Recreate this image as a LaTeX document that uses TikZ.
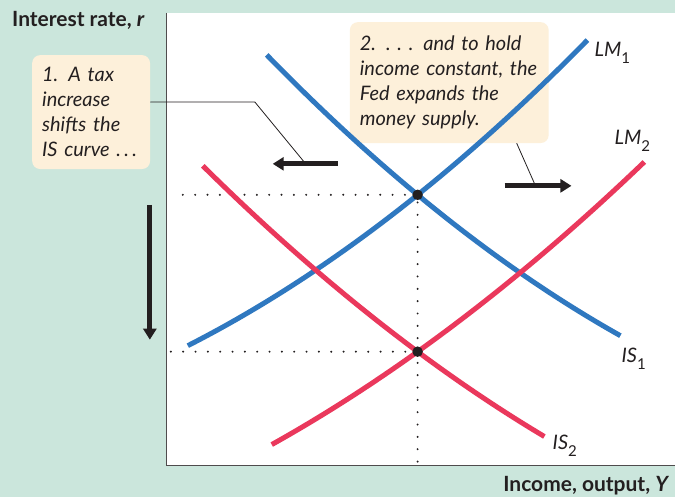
\documentclass[tikz,border=0pt]{standalone}
\usepackage{xcolor}
\usepackage{fontspec}
\setmainfont{Lato}
\usepackage{tikz}
\usetikzlibrary{arrows.meta, positioning}

\definecolor{panelgreen}{HTML}{CBE6DC}
\definecolor{notecream}{HTML}{FDF0DA}
\definecolor{curveblue}{HTML}{2F78C0}
\definecolor{curvered}{HTML}{EA385C}
\definecolor{inkgray}{HTML}{231F20}

\newcommand{\curvelab}[2]{\textit{#1}\raisebox{-7pt}{\fontsize{15}{15}\selectfont #2}}

\begin{document}
\begin{tikzpicture}[x=1pt, y=-1pt, >={Triangle[length=11pt,width=13pt]},
    note/.style={rectangle, rounded corners=8pt, fill=notecream, anchor=north west, inner xsep=10pt, inner ysep=0pt, align=left, font=\fontsize{20}{25}\selectfont\itshape, text=inkgray},
    curve/.style={line width=5pt},
    shiftarrow/.style={->, line width=5pt, draw=inkgray},
    leader/.style={draw=inkgray, line width=0.8pt},
    guide/.style={draw=inkgray, line width=2.2pt, line cap=round, dash pattern=on 0pt off 12.35pt},
    eqdot/.style={circle, fill=inkgray, inner sep=0pt, minimum size=10.5pt},
    axislab/.style={font=\fontsize{21}{25}\selectfont\bfseries, text=inkgray, inner sep=0pt},
    curvelabel/.style={font=\fontsize{20}{25}\selectfont, text=inkgray, inner sep=0pt, anchor=base west}]

    % panel and plot area
    \fill[panelgreen] (0,0) rectangle (676,497);
    \fill[white] (167,13) rectangle (676,466);
    \draw[draw=inkgray!80, line width=1.3pt] (167,13) -- (167,466) -- (676,466);

    \node[axislab, anchor=base west] (ylab) at (12,27) {Interest rate, \textit{r}};
    \node[axislab, anchor=base east] (xlab) at (670,492) {Income, output, \textit{Y}};

    % notes
    \node[note, minimum width=118pt, minimum height=114pt, text width=98pt] (note1) at (32,55)
        {1. A tax\\increase\\shifts the\\IS\ curve~.\,.\,.};
    \node[note, minimum width=199pt, minimum height=121pt, text width=179pt] (note2) at (350,22)
        {2. .~.~. and to hold\\income constant, the\\Fed expands the\\money supply.};

    % equilibria and guides
    \coordinate (E1) at (418,195);
    \coordinate (E2) at (418,352);
    \coordinate (g1) at (183,195);
    \coordinate (g2) at (171,352);
    \coordinate (gfoot) at (418,462);
    \draw[guide] (g1) -- (E1);
    \draw[guide] (g2) -- (E2);
    \draw[guide] (gfoot) -- (E1);

    % curves (u = x/100)
    \draw[curve, curveblue] plot[domain=1.88:5.88, samples=60] ({100*\x}, {419.25-26.97*\x-6.38*\x*\x});
    \draw[curve, curveblue] plot[domain=2.67:6.21, samples=60] ({100*\x}, {-265.9+137.73*\x-6.57*\x*\x});
    \draw[curve, curvered] plot[domain=2.72:6.45, samples=60] ({100*\x}, {557.28-26.70*\x-5.36*\x*\x});
    \draw[curve, curvered] plot[domain=2.03:5.45, samples=60] ({100*\x}, {-58.19+122.06*\x-5.725*\x*\x});

    \node[eqdot] (eq1) at (E1) {};
    \node[eqdot] (eq2) at (E2) {};

    \node[curvelabel] (lm1) at (595,57) {\curvelab{LM}{1}};
    \node[curvelabel] (lm2) at (615,145) {\curvelab{LM}{2}};
    \node[curvelabel] (is1) at (622,363) {\curvelab{IS}{1}};
    \node[curvelabel] (is2) at (553,450) {\curvelab{IS}{2}};

    % shift arrows
    \coordinate (ltail) at (338,164);
    \coordinate (ltip) at (273,164);
    \coordinate (lhook) at (306,164);
    \coordinate (rtail) at (505,186);
    \coordinate (rtip) at (572,186);
    \coordinate (rhook) at (536,186);
    \coordinate (dtail) at (150,205);
    \coordinate (dtip) at (150,340);
    \coordinate (bend1) at (255,102);

    \draw[shiftarrow] (ltail) -- (ltip);
    \draw[shiftarrow] (rtail) -- (rtip);
    \draw[shiftarrow] (dtail) -- (dtip);

    \draw[leader] ([yshift=10pt]note1.east) -- (bend1) -- (lhook);
    \draw[leader] ([xshift=67.5pt]note2.south) -- (rhook);
\end{tikzpicture}
\end{document}
